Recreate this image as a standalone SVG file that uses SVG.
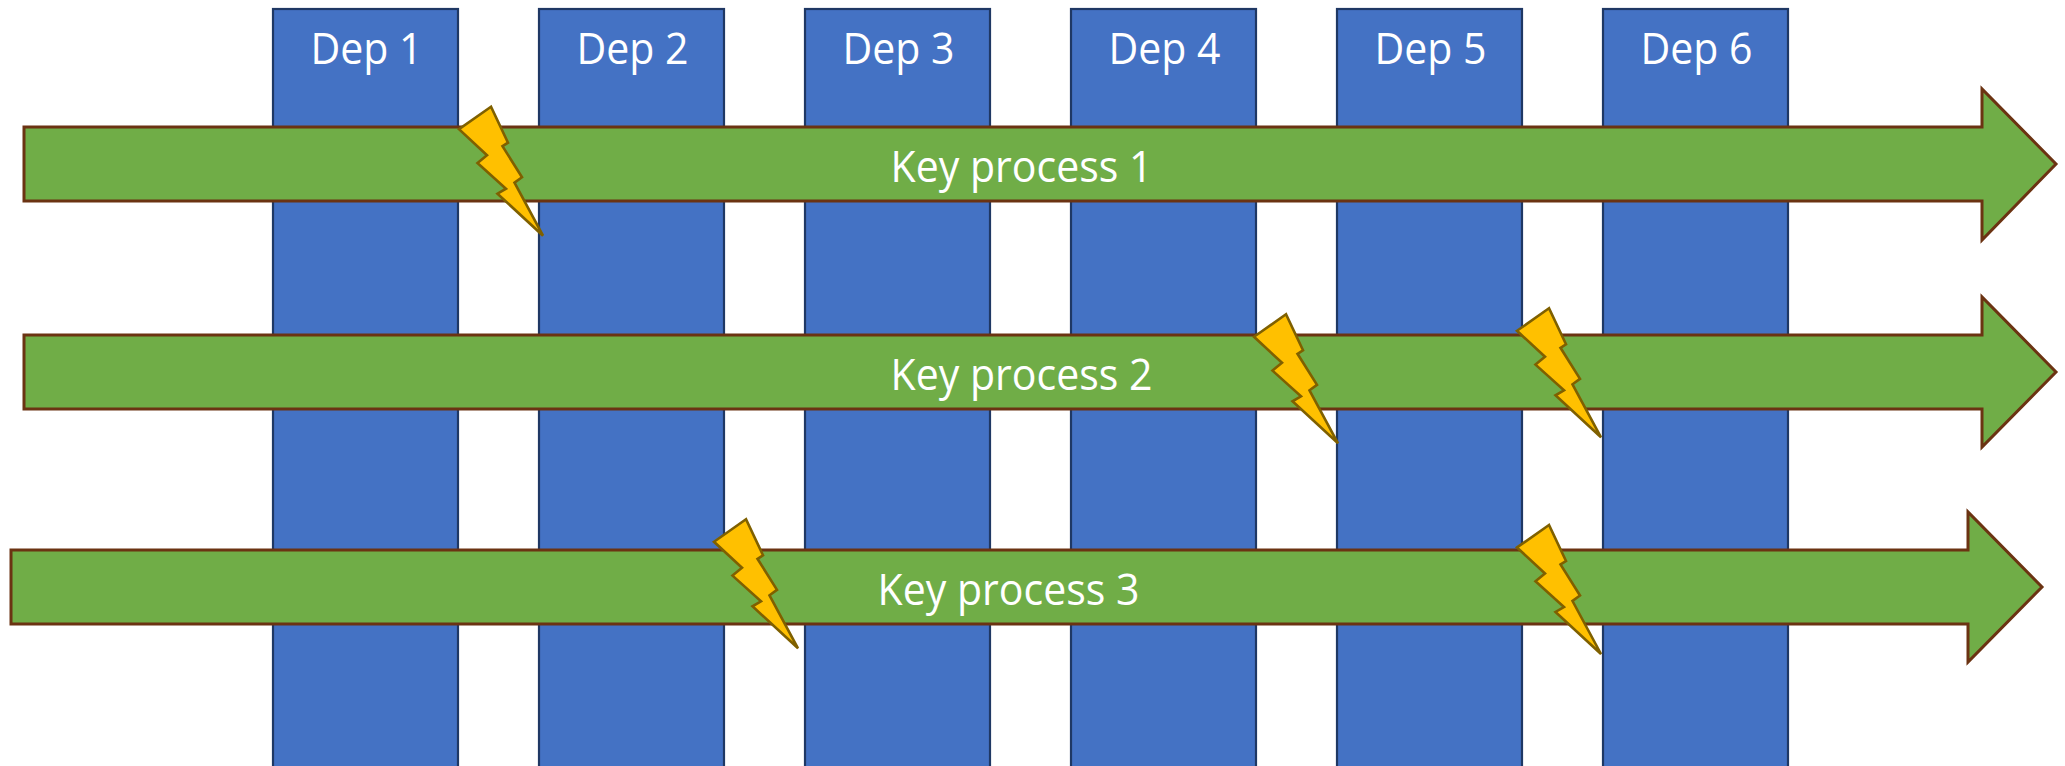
<svg xmlns="http://www.w3.org/2000/svg" xmlns:xlink="http://www.w3.org/1999/xlink" width="2065" height="766" viewBox="0 0 2065 766">
  <style>
    .dep { fill: #4472C4; stroke: #1F3864; stroke-width: 2.2; }
    .arrow { fill: #70AD47; stroke: #6B3312; stroke-width: 3; stroke-linejoin: miter; }
    .bolt { fill: #FFC000; stroke: #7F6000; stroke-width: 2.6; stroke-linejoin: miter; }
    .lbl { fill: #FFFFFF; font-family: "Open Sans", "Liberation Sans", sans-serif; font-size: 44px; text-anchor: middle; }
  </style>
  <defs>
    <path id="boltShape" d="M32,0 L0,22.5 L28,48.5 L18.5,56.3 L47,82 L38.5,87 L84,129 L55.5,76 L63,70.5 L43.5,39.5 L49,36 Z"/>
  </defs>
  <rect width="2065" height="766" fill="#FFFFFF"/>

  <g id="departments">
    <g id="dep1"><rect class="dep" x="273" y="9" width="185" height="760"/><text class="lbl" x="366.5" y="64" textLength="112" lengthAdjust="spacingAndGlyphs">Dep 1</text></g>
    <g id="dep2"><rect class="dep" x="539" y="9" width="185" height="760"/><text class="lbl" x="632.5" y="64" textLength="112" lengthAdjust="spacingAndGlyphs">Dep 2</text></g>
    <g id="dep3"><rect class="dep" x="805" y="9" width="185" height="760"/><text class="lbl" x="898.5" y="64" textLength="112" lengthAdjust="spacingAndGlyphs">Dep 3</text></g>
    <g id="dep4"><rect class="dep" x="1071" y="9" width="185" height="760"/><text class="lbl" x="1164.5" y="64" textLength="112" lengthAdjust="spacingAndGlyphs">Dep 4</text></g>
    <g id="dep5"><rect class="dep" x="1337" y="9" width="185" height="760"/><text class="lbl" x="1430.5" y="64" textLength="112" lengthAdjust="spacingAndGlyphs">Dep 5</text></g>
    <g id="dep6"><rect class="dep" x="1603" y="9" width="185" height="760"/><text class="lbl" x="1696.5" y="64" textLength="112" lengthAdjust="spacingAndGlyphs">Dep 6</text></g>
  </g>

  <g id="processes">
    <g id="process1">
      <path class="arrow" d="M24,127 L1982,127 L1982,89 L2056,164 L1982,240 L1982,201 L24,201 Z"/>
      <text class="lbl" x="1021.5" y="181.5" textLength="262" lengthAdjust="spacingAndGlyphs">Key process 1</text>
    </g>
    <g id="process2">
      <path class="arrow" d="M24,335 L1982,335 L1982,297 L2056,372 L1982,447 L1982,409 L24,409 Z"/>
      <text class="lbl" x="1021.5" y="389.5" textLength="262" lengthAdjust="spacingAndGlyphs">Key process 2</text>
    </g>
    <g id="process3">
      <path class="arrow" d="M11,550 L1968,550 L1968,512 L2042,587 L1968,662 L1968,624 L11,624 Z"/>
      <text class="lbl" x="1008.5" y="604.5" textLength="262" lengthAdjust="spacingAndGlyphs">Key process 3</text>
    </g>
  </g>

  <g id="issues">
    <g id="bolt1"><use xlink:href="#boltShape" href="#boltShape" class="bolt" transform="translate(459,106.7)"/></g>
    <g id="bolt2"><use xlink:href="#boltShape" href="#boltShape" class="bolt" transform="translate(1254,314.3)"/></g>
    <g id="bolt3"><use xlink:href="#boltShape" href="#boltShape" class="bolt" transform="translate(1517,308.3)"/></g>
    <g id="bolt4"><use xlink:href="#boltShape" href="#boltShape" class="bolt" transform="translate(714,519.3)"/></g>
    <g id="bolt5"><use xlink:href="#boltShape" href="#boltShape" class="bolt" transform="translate(1517,525)"/></g>
  </g>
</svg>
